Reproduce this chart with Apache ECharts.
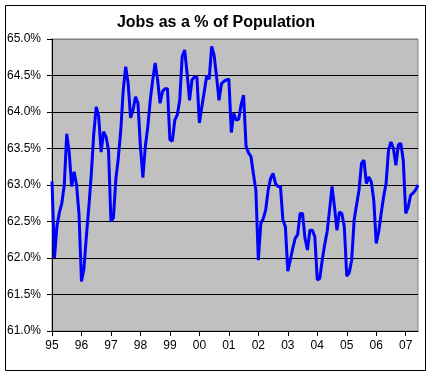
<!DOCTYPE html>
<html>
<head>
<meta charset="utf-8">
<title>Jobs as a % of Population</title>
<script src="https://cdn.jsdelivr.net/npm/echarts@6/dist/echarts.min.js"></script>
<style>
	html, body { margin: 0; padding: 0; background: #fff; }
	#echarts-line-chart { width: 432px; height: 377px; }
</style>
</head>
<body>
<div id="echarts-line-chart"></div>
<script>
// one label per year, data is monthly from Jan 95
var years = [ '95', '96', '97', '98', '99', '00', '01', '02', '03', '04', '05', '06', '07' ];
var yTicks = [ 61.0, 61.5, 62.0, 62.5, 63.0, 63.5, 64.0, 64.5, 65.0 ];

var jobs95 = [ 63.05, 62.0, 62.43, 62.62, 62.75, 63.0, 63.7, 63.45, 62.98, 63.18, 63.0, 62.6 ];
var jobs96 = [ 61.68, 61.85, 62.3, 62.7, 63.15, 63.7, 64.07, 63.94, 63.45, 63.73, 63.66, 63.48 ];
var jobs97 = [ 62.5, 62.55, 63.08, 63.37, 63.75, 64.3, 64.62, 64.39, 63.92, 64.03, 64.21, 64.12 ];
var jobs98 = [ 63.53, 63.1, 63.53, 63.8, 64.16, 64.44, 64.67, 64.44, 64.12, 64.28, 64.32, 64.32 ];
var jobs99 = [ 63.62, 63.6, 63.89, 63.96, 64.16, 64.76, 64.85, 64.53, 64.16, 64.44, 64.48, 64.48 ];
var jobs00 = [ 63.85, 64.07, 64.28, 64.5, 64.45, 64.9, 64.78, 64.48, 64.16, 64.39, 64.42, 64.44 ];
var jobs01 = [ 64.45, 63.72, 63.98, 63.89, 63.9, 64.1, 64.23, 63.53, 63.44, 63.39, 63.15, 62.93 ];
var jobs02 = [ 61.97, 62.47, 62.54, 62.66, 62.93, 63.09, 63.16, 63.02, 62.98, 62.98, 62.52, 62.43 ];
var jobs03 = [ 61.82, 61.97, 62.13, 62.27, 62.32, 62.61, 62.61, 62.27, 62.11, 62.38, 62.38, 62.29 ];
var jobs04 = [ 61.7, 61.72, 61.97, 62.18, 62.36, 62.66, 62.98, 62.7, 62.38, 62.63, 62.61, 62.43 ];
var jobs05 = [ 61.75, 61.8, 61.97, 62.52, 62.73, 62.93, 63.3, 63.34, 63.02, 63.11, 63.04, 62.79 ];
var jobs06 = [ 62.2, 62.36, 62.61, 62.84, 63.02, 63.48, 63.59, 63.5, 63.27, 63.55, 63.57, 63.34 ];
var jobs07 = [ 62.61, 62.7, 62.86, 62.89, 62.93, 63.0 ];

var jobs = [].concat(jobs95, jobs96, jobs97, jobs98, jobs99, jobs00, jobs01,
		jobs02, jobs03, jobs04, jobs05, jobs06, jobs07);

var months = [];
for ( var i = 0; i < jobs.length; i++) {
	months.push(years[Math.floor(i / 12)] + '/' + (i % 12 + 1));
}

var lineChart = echarts.init(document.getElementById("echarts-line-chart"));

// top gridline sits on the grey plot border
var gridColors = [];
for ( var i = 0; i < yTicks.length; i++) {
	gridColors.push(i == yTicks.length - 1 ? '#808080' : '#000000');
}

var option = {
	animation : false,
	textStyle : {
		fontFamily : 'Liberation Sans, Arial, sans-serif'
	},
	title : {
		text : 'Jobs as a % of Population',
		left : 'center',
		top : 10,
		textStyle : {
			fontSize : 16,
			fontWeight : 'bold',
			color : '#000'
		}
	},
	graphic : [ {
		type : 'rect',
		shape : { x : 5.5, y : 5.5, width : 420, height : 365 },
		style : { fill : null, stroke : '#000', lineWidth : 1 },
		silent : true
	} ],
	grid : {
		left : 52,
		right : 14,
		top : 39,
		bottom : 46,
		show : true,
		backgroundColor : '#c0c0c0',
		borderColor : '#808080',
		borderWidth : 1
	},
	xAxis : {
		type : 'category',
		data : months,
		boundaryGap : false,
		axisLine : { lineStyle : { color : '#000', width : 1 } },
		axisTick : { interval : 11, length : 5, lineStyle : { color : '#000' } },
		axisLabel : {
			interval : 11,
			margin : 9,
			fontSize : 12,
			color : '#000',
			formatter : function(v) {
				return v.split('/')[0];
			}
		},
		splitLine : { show : false }
	},
	yAxis : {
		type : 'value',
		min : yTicks[0],
		max : yTicks[yTicks.length - 1],
		interval : yTicks[1] - yTicks[0],
		axisLine : { show : true, lineStyle : { color : '#000', width : 1 } },
		axisTick : { show : true, length : 5, lineStyle : { color : '#000' } },
		axisLabel : {
			margin : 11,
			fontSize : 12,
			color : '#000',
			formatter : function(v) {
				return v.toFixed(1) + '%';
			}
		},
		splitLine : { lineStyle : { color : gridColors, width : 1 } }
	},
	series : [ {
		name : 'Jobs',
		type : 'line',
		data : jobs,
		showSymbol : false,
		symbol : 'none',
		lineStyle : { color : '#0000ff', width : 3 }
	} ]
};
lineChart.setOption(option);
window.onresize = lineChart.resize;
</script>
</body>
</html>
